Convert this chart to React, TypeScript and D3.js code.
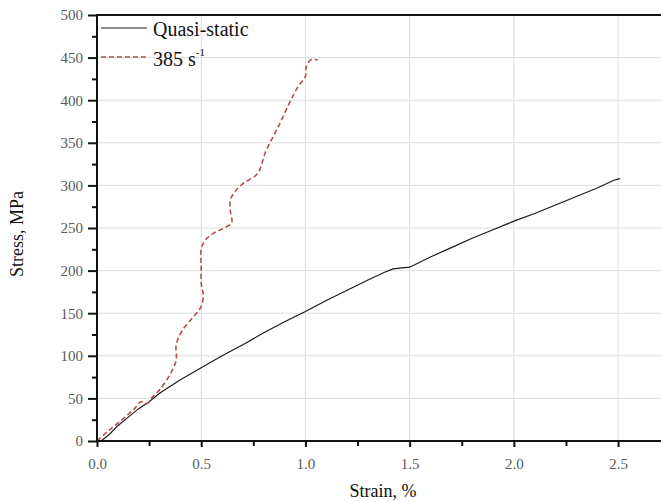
import React, { useEffect, useRef } from 'react';
import * as d3 from 'd3';

// Quasi-static curve [strain %, stress MPa]
const quasiStatic: [number, number][] = [
  [0.02, 0], [0.06, 8], [0.1, 18], [0.15, 28], [0.2, 38], [0.25, 46], [0.3, 56],
  [0.35, 64], [0.4, 72], [0.45, 79], [0.5, 86], [0.6, 100], [0.7, 113],
  [0.8, 127], [0.9, 140], [1.0, 152], [1.1, 165], [1.2, 177], [1.3, 189],
  [1.38, 198], [1.42, 202], [1.5, 204], [1.6, 216], [1.7, 227], [1.8, 238],
  [1.9, 248], [2.0, 258], [2.1, 267], [2.2, 277], [2.3, 287], [2.4, 297],
  [2.48, 306], [2.51, 308]
];

// Dynamic curve 385 s^-1
const dynamic: [number, number][] = [
  [0.0, 0], [0.05, 11], [0.12, 25], [0.18, 38], [0.21, 46], [0.24, 44], [0.26, 50],
  [0.3, 60], [0.35, 78], [0.38, 95], [0.38, 113], [0.41, 130], [0.46, 145],
  [0.5, 158], [0.51, 171], [0.5, 185], [0.5, 205], [0.5, 225], [0.52, 236],
  [0.56, 244], [0.61, 250], [0.646, 256], [0.64, 270], [0.64, 283], [0.66, 292],
  [0.7, 302], [0.77, 314], [0.81, 340], [0.87, 369], [0.93, 400], [0.965, 416],
  [1.0, 428], [1.005, 440], [1.03, 448], [1.06, 447]
];

const xTicks = [0, 0.5, 1.0, 1.5, 2.0, 2.5];
const yTicks = [0, 50, 100, 150, 200, 250, 300, 350, 400, 450, 500];

const App = () => {
  const svgRef = useRef<SVGSVGElement | null>(null);

  useEffect(() => {
    if (!svgRef.current) return;
    const svg = d3.select(svgRef.current);
    svg.selectAll('*').remove();

    const width = 661, height = 502;
    const left = 97, top = 15, right = 661, bottom = 441;
    const font = '"Liberation Serif", "Times New Roman", serif';

    const x = d3.scaleLinear().domain([0, 2.706]).range([left, right]);
    const y = d3.scaleLinear().domain([0, 500]).range([bottom, top]);

    svg.attr('width', width).attr('height', height);

    // grid
    const grid = svg.append('g').attr('stroke', '#dcdcdc').attr('stroke-width', 1);
    xTicks.slice(1).forEach(t => {
      grid.append('line').attr('x1', x(t)).attr('x2', x(t)).attr('y1', top).attr('y2', bottom);
    });
    yTicks.slice(1, -1).forEach(t => {
      grid.append('line').attr('x1', left).attr('x2', right).attr('y1', y(t)).attr('y2', y(t));
    });

    // curves
    svg.append('path')
      .attr('fill', 'none')
      .attr('stroke', '#1a1a1a')
      .attr('stroke-width', 1.2)
      .attr('d', d3.line<[number, number]>().x(d => x(d[0])).y(d => y(d[1]))(quasiStatic));
    svg.append('path')
      .attr('fill', 'none')
      .attr('stroke', '#b0514a')
      .attr('stroke-width', 1.6)
      .attr('stroke-dasharray', '5,3')
      .attr('d', d3.line<[number, number]>().x(d => x(d[0])).y(d => y(d[1])).curve(d3.curveCatmullRom.alpha(0.5))(dynamic));

    // axes
    const yAxis = d3.axisLeft(y).tickValues(yTicks).tickSize(9).tickPadding(5).tickFormat(d3.format('d'));
    const yg = svg.append('g').attr('transform', `translate(${left},0)`).call(yAxis);
    const yMinor = d3.axisLeft(y).tickValues(d3.range(25, 500, 50)).tickSize(5).tickFormat(() => '');
    svg.append('g').attr('transform', `translate(${left},0)`).call(yMinor);

    const xAxis = d3.axisBottom(x).tickValues(xTicks).tickSize(6).tickPadding(11).tickFormat(d3.format('.1f'));
    const xg = svg.append('g').attr('transform', `translate(0,${bottom})`).call(xAxis);
    const xMinor = d3.axisBottom(x).tickValues([0.25, 0.75, 1.25, 1.75, 2.25]).tickSize(5).tickFormat(() => '');
    svg.append('g').attr('transform', `translate(0,${bottom})`).call(xMinor);

    svg.selectAll('.domain').remove();
    svg.selectAll('.tick line').attr('stroke', '#111').attr('stroke-width', 2);
    [yg, xg].forEach(g => g.selectAll('text')
      .attr('font-family', font).attr('font-size', 15).attr('fill', '#5a5a5a'));

    // frame lines
    svg.append('line').attr('x1', left).attr('x2', left).attr('y1', top).attr('y2', bottom)
      .attr('stroke', '#111').attr('stroke-width', 2);
    svg.append('line').attr('x1', left - 1).attr('x2', right).attr('y1', bottom).attr('y2', bottom)
      .attr('stroke', '#111').attr('stroke-width', 2);
    svg.append('line').attr('x1', left - 1).attr('x2', right).attr('y1', top).attr('y2', top)
      .attr('stroke', '#111').attr('stroke-width', 2);

    // axis titles
    svg.append('text')
      .attr('transform', `translate(23,${234}) rotate(-90)`)
      .attr('text-anchor', 'middle')
      .attr('font-family', font).attr('font-size', 18).attr('fill', '#111')
      .text('Stress, MPa');
    svg.append('text')
      .attr('x', 383).attr('y', 497)
      .attr('text-anchor', 'middle')
      .attr('font-family', font).attr('font-size', 18).attr('fill', '#111')
      .text('Strain, %');

    // legend
    const lg = svg.append('g');
    lg.append('line').attr('x1', 101).attr('x2', 147).attr('y1', 28).attr('y2', 28)
      .attr('stroke', '#1a1a1a').attr('stroke-width', 1.2);
    lg.append('text').attr('x', 153).attr('y', 36)
      .attr('font-family', font).attr('font-size', 20).attr('fill', '#111')
      .text('Quasi-static');
    lg.append('line').attr('x1', 101).attr('x2', 148).attr('y1', 57).attr('y2', 57)
      .attr('stroke', '#b0514a').attr('stroke-width', 1.6).attr('stroke-dasharray', '5,3');
    const t2 = lg.append('text').attr('x', 153).attr('y', 66)
      .attr('font-family', font).attr('font-size', 20).attr('fill', '#111');
    t2.append('tspan').text('385 s');
    t2.append('tspan').attr('dy', -10).attr('font-size', 11).text('-1');
  }, []);

  return (
    <svg ref={svgRef} style={{ position: 'absolute', left: 0, top: 0, display: 'block' }}></svg>
  );
};

export default App;
